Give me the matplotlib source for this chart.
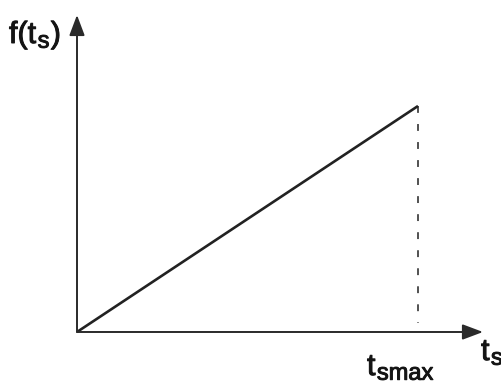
import numpy as np
import matplotlib
matplotlib.use("Agg")
import matplotlib.pyplot as plt
import matplotlib.patheffects as pe

plt.rcParams['font.family'] = ['Liberation Sans', 'DejaVu Sans']

# f(t_s) rises linearly from 0 up to t_smax
ts = [0.0, 1.0]
f_ts = [0.0, 1.0]
t_smax = 1.0

# labels as (main, subscript, tail)
ylabel = ('f(t', 's', ')')
xlabel = ('t', 's', '')
tick_label = ('t', 'smax', '')

MAIN_SIZE = 22
SUB_SIZE = 17
SUB_DROP = 3.4  # points below the baseline

fig = plt.figure(figsize=(5.02, 3.88), dpi=100)
ax = fig.add_axes([0, 0, 1, 1])
ax.set_xlim(-0.2258, 1.2463)
ax.set_ylim(-0.2478, 1.469)
ax.axis('off')
renderer = fig.canvas.get_renderer()


def sub_text(x, y, parts, color='#141414'):
    # write main text, subscript and tail one after another, in points
    main, sub, tail = parts
    pieces = [(main, MAIN_SIZE, 0), (sub, SUB_SIZE, -SUB_DROP), (tail, MAIN_SIZE, 0)]
    off = 0.0
    for s, size, dy in pieces:
        if not s:
            continue
        t = ax.annotate(s, xy=(x, y), xycoords='data', xytext=(off, dy),
                        textcoords='offset points', fontsize=size,
                        ha='left', va='baseline', color=color,
                        path_effects=[pe.withStroke(linewidth=0.7, foreground=color)])
        w = t.get_window_extent(renderer).width * 72 / fig.dpi
        off += w + 1.0


axis_col = '#2a2a2a'
arrow = dict(arrowstyle='-|>,head_length=1.25,head_width=0.47',
             color=axis_col, lw=1.4, mutation_scale=10, shrinkA=0, shrinkB=0)
ax.annotate('', xy=(1.1906, 0), xytext=(0, 0), arrowprops=arrow)
ax.annotate('', xy=(0, 1.4027), xytext=(0, 0), arrowprops=arrow)

ax.plot(ts, f_ts, color='#222222', lw=1.9, solid_capstyle='butt')
ax.plot([t_smax, t_smax], [f_ts[-1], 0.04], color='#222222', lw=1.1,
        dashes=(4.5, 7.3))

sub_text(-0.1994, 1.2788, ylabel)
sub_text(1.1848, -0.1239, xlabel)
sub_text(0.8504, -0.1903, tick_label)

fig.savefig('out.png', dpi=100)
